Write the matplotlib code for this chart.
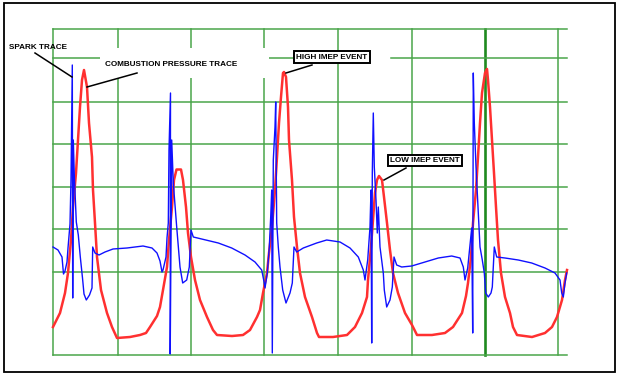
import matplotlib.pyplot as plt
from matplotlib.lines import Line2D
from matplotlib.patches import Rectangle

W, H = 619, 377

# combustion pressure trace (red): x = sample, y = ADC counts
press_x = [0, 7, 12, 15, 18, 20, 23, 25, 27, 29, 31, 34, 36, 39, 40, 42, 44, 48, 54, 59, 64,
           77, 87, 93, 97, 104, 107, 110, 114, 116, 119, 121, 123.5, 128, 130, 133, 135, 138,
           142, 147, 154, 160, 164, 179, 190, 197, 204, 207, 210, 214, 216, 219, 222, 224, 226,
           228, 230, 231, 233, 235, 236, 239, 241, 244, 247, 252, 259, 264, 266, 280, 294, 302,
           309, 314, 315, 318, 320, 322, 324, 326, 329, 331, 334, 337, 340, 345, 352, 359, 364,
           379, 392, 400, 409, 413, 415, 418, 420, 423, 425, 427, 429, 432, 434, 435, 437, 439,
           441, 443, 445, 448, 452, 457, 460, 464, 479, 492, 499, 504, 509, 512, 514]
press_y = [28, 42, 62, 82, 115, 148, 182, 215, 248, 275, 285, 268, 232, 198, 165, 132, 98, 65,
           42, 28, 17, 18, 20, 22, 28, 39, 48, 65, 88, 115, 148, 175, 185.5, 185.5, 175, 148, 122,
           98, 75, 55, 38, 25, 20, 19, 20, 25, 38, 45, 62, 82, 102, 128, 165, 198, 232, 258, 282,
           283, 278, 248, 215, 175, 138, 108, 82, 58, 38, 22, 18, 18, 20, 28, 42, 58, 75, 108, 135,
           162, 175, 179, 175, 158, 132, 105, 82, 62, 42, 30, 20, 20, 22, 28, 42, 59, 72, 98, 132,
           165, 198, 232, 262, 282, 286, 275, 248, 215, 182, 148, 115, 82, 58, 42, 28, 20, 18, 22,
           28, 38, 55, 75, 85]

# spark trace (blue)
spark_x = [0, 5, 9, 10.5, 12, 14, 15, 17, 18, 19.3, 19.7, 20.3, 21.3, 23.3, 25.3, 27.3, 29.5, 31,
           33.3, 36.5, 39, 39.7, 42, 46, 52, 60, 74, 90, 99, 104, 107, 109, 110, 113, 114, 115.3,
           116, 117.5, 117.2, 118.7, 120.3, 123.7, 127, 129.7, 133.7, 136.3, 138, 140.3, 148.7,
           165.3, 178.7, 192, 202, 208.7, 211.3, 212, 214.3, 216.3, 217.7, 218.7, 219.3, 220.3,
           222, 222.7, 223.7, 225.3, 227, 229.7, 233, 237, 239.3, 241, 243.7, 250.3, 263.7, 273.7,
           287, 297, 305.3, 310.3, 312, 314.7, 317, 318, 318.7, 319.3, 320.3, 321.3, 323, 324.3,
           325.3, 327, 328.7, 330.3, 331.3, 333.7, 337, 339.3, 341, 343.7, 348.7, 358.7, 372,
           385.3, 398.7, 407, 410.3, 412, 414.7, 417, 418.7, 419.7, 420.3, 421.3, 423, 424.7,
           426.3, 427, 429.3, 431.3, 432.7, 435.3, 438, 439.3, 441.3, 443.7, 452, 465.3, 478.7,
           492, 502, 507, 508.7, 510.3, 512, 513.7]
spark_y = [108, 105, 98, 81, 84, 93, 107, 131, 175, 290, 57, 215, 180, 133, 120, 98, 77, 61, 55,
           60, 67, 108, 102, 100, 103, 106, 107, 109, 107, 102, 94, 83, 85, 98, 117, 132, 205, 262,
           1, 215, 172, 128, 88, 72, 75, 88, 125, 118, 116, 112, 107, 100, 93, 85, 72, 67, 82, 108,
           138, 165, 2, 195, 228, 253, 132, 108, 88, 65, 52, 62, 72, 108, 103, 107, 112, 115, 113,
           107, 98, 85, 75, 95, 128, 165, 12, 182, 242, 188, 155, 122, 148, 108, 95, 82, 65, 48,
           55, 68, 98, 90, 88, 89, 93, 97, 99, 97, 88, 75, 87, 110, 127, 22, 282, 232, 188, 155,
           122, 108, 95, 82, 62, 58, 62, 68, 108, 98, 97, 95, 92, 87, 82, 75, 62, 58, 72, 82]

# scope graticule
grid_x = [0, 65, 138, 211, 285, 359, 505]
grid_x_major = 432
grid_y = [0, 82.7, 125.7, 168.3, 211, 253.3, 326]
part_y = 297.3
part_spans = [(0, 47), (216, 240), (338, 514)]

green = "#4aa54a"


def fx(px):
    return px / W


def fy(py):
    return 1 - py / H


fig = plt.figure(figsize=(W / 100, H / 100), dpi=100)
ax = fig.add_axes([53 / W, 22 / H, 514 / W, 326 / H])
ax.set_xlim(0, 514)
ax.set_ylim(0, 326)
ax.axis("off")

for x in grid_x:
    ax.axvline(x, color=green, lw=1.1, zorder=1, clip_on=False)
ax.axvline(grid_x_major, color="#1f8a1f", lw=1.9, zorder=1, clip_on=False)
for y in grid_y:
    ax.axhline(y, color=green, lw=1.1, zorder=1, clip_on=False)
for a, b in part_spans:
    ax.plot([a, b], [part_y, part_y], color=green, lw=1.1, zorder=1, clip_on=False)

# white patch behind the combustion label
fig.add_artist(Rectangle((fx(100), fy(78)), fx(169), 30 / H, transform=fig.transFigure,
                         fc="white", ec="none", zorder=2))

ax.plot(press_x, press_y, color="#ff3030", lw=1.8, zorder=3, clip_on=False)
ax.plot(spark_x, spark_y, color="#1010ff", lw=1.0, zorder=4, clip_on=False)

# outer frame
fig.add_artist(Rectangle((fx(4), fy(372)), (615 - 4) / W, (372 - 3) / H,
                         transform=fig.transFigure, fc="none", ec="black", lw=1.3, zorder=5))

font = dict(fontsize=5.9, fontweight="bold", family=["Liberation Sans", "DejaVu Sans"],
            zorder=6)

fig.text(fx(9), fy(47.5), "SPARK TRACE", ha="left", va="center", **font)
fig.text(fx(171.5), fy(64.3), "COMBUSTION PRESSURE TRACE", ha="center", va="center", **font)
box = dict(boxstyle="square,pad=0.3", fc="white", ec="black", lw=1.4)
fig.text(fx(332), fy(57.2), "HIGH IMEP EVENT", ha="center", va="center", bbox=box, **font)
fig.text(fx(425), fy(160.5), "LOW IMEP EVENT", ha="center", va="center", bbox=box, **font)

leaders = [((35, 53), (72, 77)), ((137, 73), (87, 87)), ((312, 65), (286, 73)),
           ((406, 168), (384, 180))]
for (x0, y0), (x1, y1) in leaders:
    fig.add_artist(Line2D([fx(x0), fx(x1)], [fy(y0), fy(y1)], transform=fig.transFigure,
                          color="black", lw=1.1, zorder=6))

fig.savefig("out.png", dpi=100, facecolor="white")
